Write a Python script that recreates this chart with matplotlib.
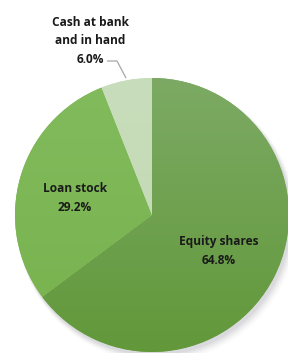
import matplotlib
matplotlib.use("Agg")
import matplotlib.pyplot as plt
import numpy as np
from matplotlib.patches import Circle

categories = ["Equity shares", "Loan stock", "Cash at bank\nand in hand"]
values = [64.8, 29.2, 6.0]
pct_labels = ["64.8%", "29.2%", "6.0%"]
colors_top = ["#7caa64", "#82bb5c", "#c8ddbb"]
colors_bot = ["#62983a", "#78b24e", "#c2d9b3"]

W, H = 288, 353
fig = plt.figure(figsize=(W / 100, H / 100), dpi=100)
ax = fig.add_axes([0, 0, 1, 1])
ax.set_xlim(0, W)
ax.set_ylim(0, H)
ax.axis("off")

cx, cy, r = 152, H - 215, 137

# soft shadow
for i, a in enumerate(np.linspace(0.06, 0.015, 6)):
    ax.add_patch(Circle((cx + 2 + i * 0.6, cy - 3 - i * 0.8), r + 0.5 + i * 0.6,
                        facecolor="#555566", edgecolor="none", alpha=a, zorder=0))
ax.add_patch(Circle((cx, cy), r, facecolor="white", edgecolor="none", zorder=0.5))

wedges, _ = ax.pie(values, startangle=90, counterclock=False, center=(cx, cy),
                   radius=r, colors=colors_top,
                   wedgeprops=dict(linewidth=0, edgecolor="none"))
ax.set_xlim(0, W)
ax.set_ylim(0, H)
ax.set_aspect("equal")

# vertical gradients clipped to wedges
for w, ct, cb in zip(wedges, colors_top, colors_bot):
    ct_rgb = np.array(matplotlib.colors.to_rgb(ct))
    cb_rgb = np.array(matplotlib.colors.to_rgb(cb))
    t = np.linspace(0, 1, 256)[:, None]
    grad = (ct_rgb[None, :] * (1 - t) + cb_rgb[None, :] * t)[:, None, :]
    im = ax.imshow(grad, extent=(cx - r, cx + r, cy - r, cy + r), origin="upper",
                   aspect="auto", zorder=1.5, interpolation="bilinear")
    im.set_clip_path(w)

font = dict(family=["Open Sans", "DejaVu Sans"], fontweight="bold", fontsize=8.6,
            color="#1a1a1a", ha="center", va="center", linespacing=1.55)

ax.text(219, H - 251, categories[0] + "\n" + pct_labels[0], zorder=3, **font)
ax.text(75, H - 198, categories[1] + "\n" + pct_labels[1], zorder=3, **font)
ax.text(90, H - 41, categories[2] + "\n" + pct_labels[2], zorder=3, **font)

# leader line for small slice
ax.plot([107, 117, 126], [H - 61, H - 61, H - 78], color="#a6a6a6", lw=0.9,
        zorder=3, solid_capstyle="butt")

fig.savefig("out.png", dpi=100)
